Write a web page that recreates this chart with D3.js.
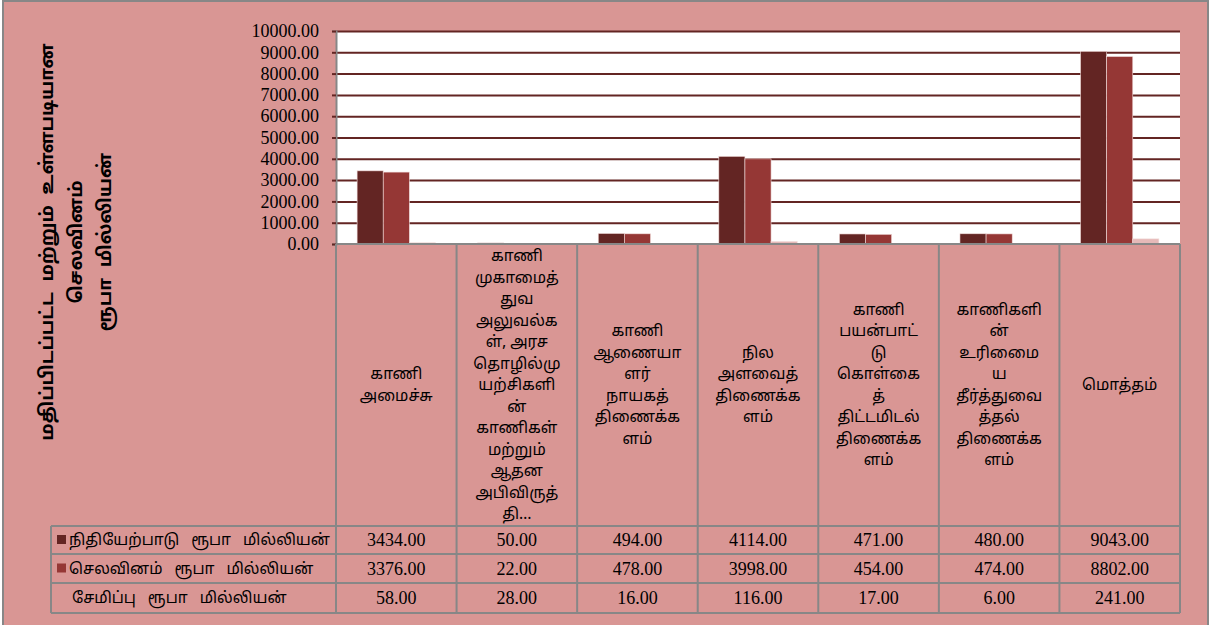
<!DOCTYPE html>
<html>
<head>
<meta charset="utf-8">
<script src="https://cdn.jsdelivr.net/npm/d3@7"></script>
<style>
  body { margin: 0; background: #ffffff; }
  svg { display: block; }
  .tamil { font-family: "Noto Sans Tamil", "Latha", "Noto Sans", sans-serif; }
  .num { font-family: "Liberation Serif", "Times New Roman", serif; }
</style>
</head>
<body>
<svg id="chart" width="1210" height="625"></svg>
<script>
// chart data
var categories = [
    ["காணி", "அமைச்சு"],
    ["காணி", "முகாமைத்", "துவ", "அலுவல்க", "ள்,  அரச", "தொழில்மு", "யற்சிகளி", "ன்", "காணிகள்", "மற்றும்", "ஆதன", "அபிவிருத்", "தி…"],
    ["காணி", "ஆணையா", "ளர்", "நாயகத்", "திணைக்க", "ளம்"],
    ["நில", "அளவைத்", "திணைக்க", "ளம்"],
    ["காணி", "பயன்பாட்", "டு", "கொள்கை", "த்", "திட்டமிடல்", "திணைக்க", "ளம்"],
    ["காணிகளி", "ன்", "உரிமைை", "ய", "தீர்த்துவை", "த்தல்", "திணைக்க", "ளம்"],
    ["மொத்தம்"]
];
var seriesNames = ["நிதியேற்பாடு ரூபா மில்லியன்", "செலவினம் ரூபா மில்லியன்", "சேமிப்பு ரூபா மில்லியன்"];
var allocation = [3434, 50, 494, 4114, 471, 480, 9043];
var expenditure = [3376, 22, 478, 3998, 454, 474, 8802];
var savings = [58, 28, 16, 116, 17, 6, 241];
var yTicks = [0, 1000, 2000, 3000, 4000, 5000, 6000, 7000, 8000, 9000, 10000];
var titleLines = ["மதிப்பிடப்பட்ட மற்றும் உள்ளபடியான", "செலவினம்", "ரூபா மில்லியன்"];

var seriesValues = [allocation, expenditure, savings];
var seriesColors = ["#632523", "#953735", "#E6B9B8"];
var keyColors = ["#632523", "#953735", null];

var svg = d3.select("#chart");
var plotLeft = 336, plotRight = 1180, plotTop = 31, base = 244;
var tableBottom = 613, tableLeft = 51;
var rowLines = [526, 554, 583, 613];
var grey = "#878787";

// frame
svg.append("rect")
    .attr("x", 3).attr("y", 1)
    .attr("width", 1205).attr("height", 630)
    .attr("fill", "#D99694")
    .attr("stroke", grey).attr("stroke-width", 2);

var idx = d3.range(categories.length);

var cell = d3.scaleBand().domain(idx).range([plotLeft, plotRight]);
var x0 = d3.scaleBand().domain(idx).range([plotLeft, plotRight]).paddingInner(0.35).paddingOuter(0.175);
var x1 = d3.scaleBand().domain(d3.range(seriesNames.length)).range([0, x0.bandwidth()]);
var y = d3.scaleLinear().domain([0, 10000]).range([base, plotTop]);

// plot area
svg.append("rect")
    .attr("x", plotLeft).attr("y", plotTop)
    .attr("width", plotRight - plotLeft).attr("height", base - plotTop)
    .attr("fill", "#ffffff");

// gridlines
svg.append("g")
    .attr("transform", "translate(" + plotLeft + ",0)")
    .call(d3.axisLeft(y).tickValues(yTicks.slice(1)).tickSize(-(plotRight - plotLeft)).tickFormat(""))
    .call(g => g.select(".domain").remove())
    .selectAll("line")
    .attr("stroke", "#632523")
    .attr("stroke-width", 2);

// bars
var groups = svg.append("g").selectAll("g")
    .data(idx)
    .enter().append("g")
    .attr("transform", d => "translate(" + x0(d) + ",0)");

groups.selectAll("rect")
    .data(function (i) {
        return seriesValues.map((s, k) => ({ k: k, v: s[i] }));
    })
    .enter().append("rect")
    .attr("x", d => x1(d.k))
    .attr("width", x1.bandwidth())
    .attr("y", d => y(d.v))
    .attr("height", d => base - y(d.v))
    .attr("fill", d => seriesColors[d.k])
    .attr("stroke", "#f2dcdb")
    .attr("stroke-width", 0.6);

// y axis
var yAxis = svg.append("g")
    .attr("transform", "translate(" + plotLeft + ",0)")
    .call(d3.axisLeft(y).tickValues(yTicks).tickSize(4).tickPadding(13).tickFormat(d => d.toFixed(2)));
yAxis.select(".domain").attr("stroke", grey).attr("stroke-width", 2);
yAxis.selectAll(".tick line").attr("stroke", "#632523").attr("stroke-width", 2);
yAxis.selectAll("text")
    .attr("class", "num")
    .attr("font-size", 18)
    .attr("fill", "#000");

// y title
var title = svg.append("text")
    .attr("class", "tamil")
    .attr("transform", "translate(76,242) rotate(-90)")
    .attr("text-anchor", "middle")
    .attr("font-weight", "bold")
    .attr("font-size", 18.5)
    .attr("word-spacing", 6)
    .attr("fill", "#000");
title.selectAll("tspan")
    .data(titleLines)
    .enter().append("tspan")
    .attr("x", 0)
    .attr("y", (d, i) => (i - 1) * 29 + 6)
    .text(d => d);

// table
var table = svg.append("g");
var lineColor = grey;

// horizontal lines
table.append("line")
    .attr("x1", plotLeft).attr("x2", plotRight)
    .attr("y1", base).attr("y2", base)
    .attr("stroke", lineColor).attr("stroke-width", 2);
rowLines.forEach(function (ly) {
    table.append("line")
        .attr("x1", tableLeft).attr("x2", plotRight)
        .attr("y1", ly).attr("y2", ly)
        .attr("stroke", lineColor).attr("stroke-width", 2);
});

// vertical lines
idx.concat([categories.length]).forEach(function (i) {
    var lx = i < categories.length ? cell(i) : plotRight;
    table.append("line")
        .attr("x1", lx).attr("x2", lx)
        .attr("y1", base).attr("y2", tableBottom)
        .attr("stroke", lineColor).attr("stroke-width", 2);
});
table.append("line")
    .attr("x1", tableLeft).attr("x2", tableLeft)
    .attr("y1", rowLines[0]).attr("y2", tableBottom)
    .attr("stroke", lineColor).attr("stroke-width", 2);

// category labels
var lh = 21.5, midY = (base + rowLines[0]) / 2;
idx.forEach(function (i) {
    var lines = categories[i];
    var t = table.append("text")
        .attr("class", "tamil")
        .attr("text-anchor", "middle")
        .attr("font-size", 15.5)
        .attr("fill", "#000");
    t.selectAll("tspan")
        .data(lines)
        .enter().append("tspan")
        .attr("x", cell(i) + cell.bandwidth() / 2)
        .attr("y", (d, j) => midY + (j - (lines.length - 1) / 2) * lh + 5)
        .text(d => d);
});

// data rows
seriesNames.forEach(function (name, k) {
    var cy = (rowLines[k] + rowLines[k + 1]) / 2;
    if (keyColors[k]) {
        table.append("rect")
            .attr("x", 57).attr("y", cy - 5)
            .attr("width", 9).attr("height", 9)
            .attr("fill", keyColors[k]);
    }
    table.append("text")
        .attr("class", "tamil")
        .attr("x", k === 2 ? 72 : 69).attr("y", cy + 5)
        .attr("font-size", 15.5)
        .attr("word-spacing", 8)
        .attr("fill", "#000")
        .text(name);
    table.selectAll(null)
        .data(seriesValues[k])
        .enter().append("text")
        .attr("class", "num")
        .attr("x", (d, i) => cell(i) + cell.bandwidth() / 2)
        .attr("y", cy + 6)
        .attr("text-anchor", "middle")
        .attr("font-size", 18)
        .attr("fill", "#000")
        .text(d => d.toFixed(2));
});
</script>
</body>
</html>
